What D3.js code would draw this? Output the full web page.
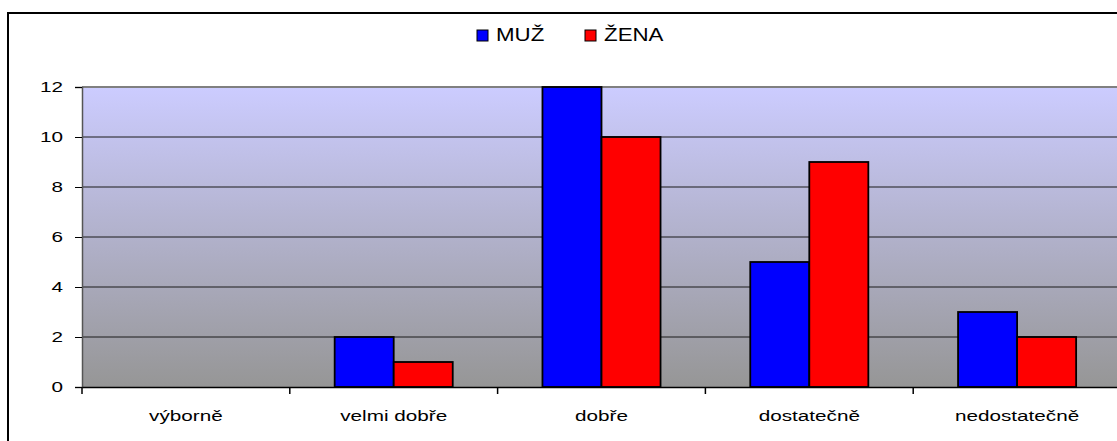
<!DOCTYPE html>
<html><head><meta charset="utf-8">
<script src="https://cdn.jsdelivr.net/npm/d3@7"></script>
<style>body{margin:0;background:#fff;}svg{display:block;font-family:"Liberation Sans",Arial,sans-serif;}</style>
</head><body>
<svg id="c" width="1117" height="441"></svg>
<script>
const categories = ["výborně","velmi dobře","dobře","dostatečně","nedostatečně"];
const seriesNames = ["MUŽ","ŽENA"];
const muz = [0,2,12,5,3];
const zena = [0,1,10,9,2];
const yTicks = [0,2,4,6,8,10,12];
const colors = ["#0000ff","#ff0000"];

const SX = 1.38; // horizontal stretch of the original text
const svg = d3.select("#c");
const M = {left:82, top:87, right:1121, bottom:387};
svg.append("rect").attr("x",8).attr("y",13).attr("width",1130).attr("height",450)
  .attr("fill","none").attr("stroke","#000").attr("stroke-width",2);

const defs = svg.append("defs");
const g = defs.append("linearGradient").attr("id","bg").attr("x1",0).attr("y1",0).attr("x2",0).attr("y2",1);
g.append("stop").attr("offset","0%").attr("stop-color","#ccccff");
g.append("stop").attr("offset","100%").attr("stop-color","#969696");

const x = d3.scaleBand().domain(categories).range([M.left,M.right]);
const x1 = d3.scaleBand().domain(seriesNames).range([0,x.bandwidth()]).paddingOuter(0.76).paddingInner(0);
const y = d3.scaleLinear().domain([0,12]).range([M.bottom,M.top]);

svg.append("rect").attr("x",M.left).attr("y",M.top).attr("width",M.right-M.left).attr("height",M.bottom-M.top)
  .attr("fill","url(#bg)");
svg.append("g").selectAll("line").data(yTicks.filter(d=>d>0&&d<12)).join("line")
  .attr("x1",M.left).attr("x2",M.right).attr("y1",d=>y(d)).attr("y2",d=>y(d))
  .attr("stroke","#1a1a1a").attr("stroke-width",1);
svg.append("line").attr("x1",M.left).attr("x2",M.right).attr("y1",y(12)).attr("y2",y(12))
  .attr("stroke","#808080").attr("stroke-width",2);

const data = categories.map((c,i)=>({c, vals:[muz[i],zena[i]]}));
const grp = svg.append("g").selectAll("g").data(data).join("g")
  .attr("transform",d=>`translate(${x(d.c)},0)`);
grp.selectAll("rect").data(d=>d.vals.map((v,j)=>({s:seriesNames[j],v,j}))).join("rect")
  .filter(d=>d.v>0)
  .attr("x",d=>x1(d.s)).attr("width",x1.bandwidth())
  .attr("y",d=>y(d.v)).attr("height",d=>y(0)-y(d.v))
  .attr("fill",d=>colors[d.j]).attr("stroke","#000").attr("stroke-width",1.8);

const ya = svg.append("g").attr("transform",`translate(${M.left},0)`)
  .call(d3.axisLeft(y).tickValues(yTicks).tickSize(7));
ya.select(".domain").attr("stroke","#555").attr("stroke-width",1.5);
ya.selectAll(".tick line").attr("stroke","#000");
ya.selectAll("text").attr("x",-19/SX).attr("transform",`scale(${SX},1)`)
  .style("font-size","15px").attr("fill","#000").style("font-family","Liberation Sans, Arial, sans-serif");

const xa = svg.append("g").attr("transform",`translate(0,${M.bottom})`)
  .call(d3.axisBottom(x).tickSize(0).tickPadding(23));
xa.select(".domain").attr("stroke","#000").attr("stroke-width",1.5);
xa.selectAll("text").attr("transform",`scale(${SX},1)`)
  .style("font-size","15px").attr("fill","#000").style("font-family","Liberation Sans, Arial, sans-serif");
svg.append("g").selectAll("line").data(categories).join("line")
  .attr("x1",d=>x(d)).attr("x2",d=>x(d)).attr("y1",M.bottom).attr("y2",M.bottom+7)
  .attr("stroke","#000").attr("stroke-width",1.5);

const LSX = 1.24;
const leg = svg.append("g");
const lx = [477,585];
seriesNames.forEach((s,i)=>{
  leg.append("rect").attr("x",lx[i]).attr("y",30).attr("width",11).attr("height",11)
    .attr("fill",colors[i]).attr("stroke","#000").attr("stroke-width",1);
  leg.append("text").attr("transform",`translate(${lx[i]+19},41) scale(${LSX},1)`)
    .style("font-size","18px").text(s);
});
</script>
</body></html>
